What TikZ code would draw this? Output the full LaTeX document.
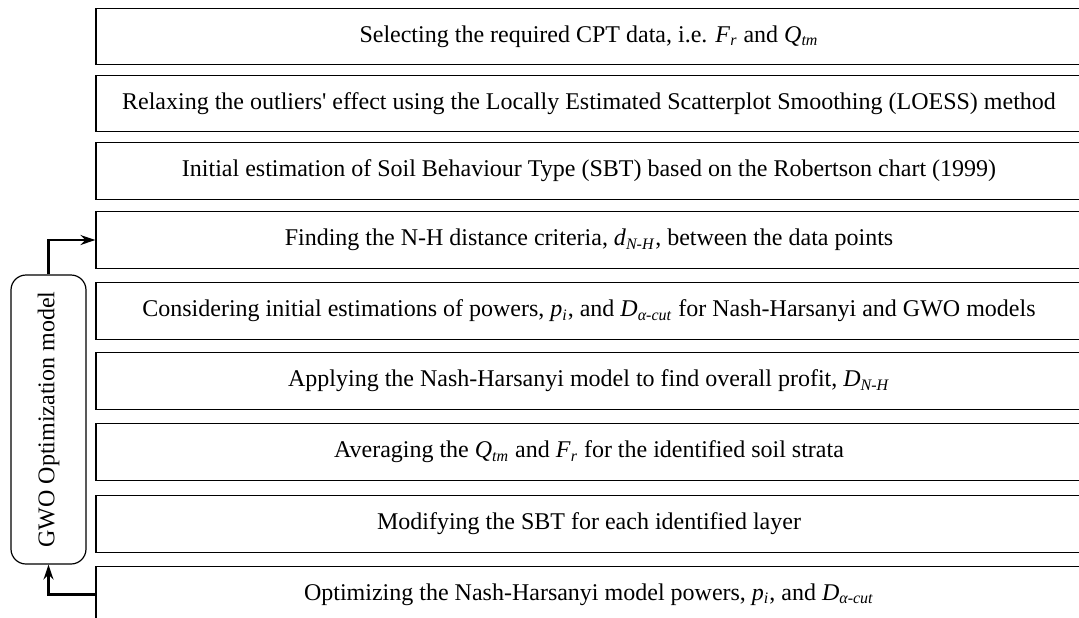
\documentclass[tikz,border=0pt]{standalone}
\usepackage{fontspec}
\setmainfont{Liberation Serif}
\usetikzlibrary{arrows.meta}
\begin{document}
\begin{tikzpicture}[x=0.5pt,y=-0.5pt,
  stepbox/.style={draw,line width=0.6pt,minimum width=493pt,minimum height=28.25pt,inner sep=0pt,font=\fontsize{12}{14}\selectfont},
  loopbox/.style={draw,line width=0.6pt,rounded corners=7.5pt,minimum width=37.5pt,minimum height=144.5pt,inner sep=0pt},
  looplabel/.style={rotate=90,font=\fontsize{12}{14}\selectfont},
  flow/.style={line width=1.1pt,-{Stealth[length=7.5pt,width=5pt,inset=2.5pt]}}]
\clip (0,0) rectangle (1079,617);
\node[stepbox] (b1) at (589,36.5) {Selecting the required CPT data, i.e. \textit{F}\textsubscript{\textit{r}} and \textit{Q}\textsubscript{\textit{tm}}};
\node[stepbox] (b2) at (589,103.5) {Relaxing the outliers\textquotesingle{} effect using the Locally Estimated Scatterplot Smoothing (LOESS) method};
\node[stepbox] (b3) at (589,171) {Initial estimation of Soil Behaviour Type (SBT) based on the Robertson chart (1999)};
\node[stepbox] (b4) at (589,240) {Finding the N-H distance criteria, \textit{d}\textsubscript{\textit{N-H}}, between the data points};
\node[stepbox] (b5) at (589,311) {Considering initial estimations of powers, \textit{p}\textsubscript{\textit{i}}, and \textit{D}\textsubscript{\textit{α-cut}} for Nash-Harsanyi and GWO models};
\node[stepbox] (b6) at (589,381) {Applying the Nash-Harsanyi model to find overall profit, \textit{D}\textsubscript{\textit{N-H}}};
\node[stepbox] (b7) at (589,452) {Averaging the \textit{Q}\textsubscript{\textit{tm}} and \textit{F}\textsubscript{\textit{r}} for the identified soil strata};
\node[stepbox] (b8) at (589,524) {Modifying the SBT for each identified layer};
\node[stepbox] (b9) at (589,594.5) {Optimizing the Nash-Harsanyi model powers, \textit{p}\textsubscript{\textit{i}}, and \textit{D}\textsubscript{\textit{α-cut}}};
\node[loopbox] (gwo) at (48.5,419.5) {};
\node[looplabel] (gwolabel) at (gwo.center) {GWO Optimization model};
\draw[flow] (gwo.north) |- (b4.west);
\draw[flow] (b9.west) -| (gwo.south);
\end{tikzpicture}
\end{document}
